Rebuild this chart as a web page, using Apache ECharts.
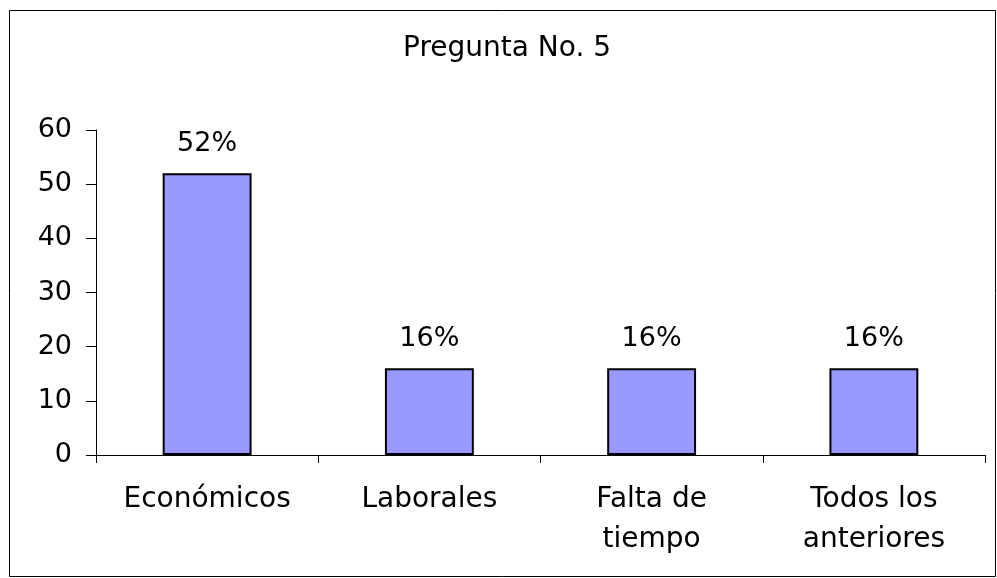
<!DOCTYPE html>
<html>
<head>
<meta charset="utf-8">
<script src="https://cdn.jsdelivr.net/npm/echarts@6/dist/echarts.min.js"></script>
<style>
  html, body { margin: 0; padding: 0; background: #fff; }
  #chart { width: 997px; height: 578px; }
</style>
</head>
<body>
<div id="chart"></div>
<script>
const categories = ['Económicos', 'Laborales', 'Falta de\ntiempo', 'Todos los\nanteriores'];
const values = [52, 16, 16, 16];
const yTicks = { min: 0, max: 60, interval: 10 };
const titleText = 'Pregunta No. 5';

const font = '"DejaVu Sans", Verdana, sans-serif';
const chart = echarts.init(document.getElementById('chart'), null, { renderer: 'canvas' });

chart.setOption({
  backgroundColor: '#fff',
  animation: false,
  graphic: [{
    type: 'rect',
    shape: { x: 9.5, y: 10.5, width: 986, height: 566 },
    style: { fill: 'none', stroke: '#000', lineWidth: 1 },
    silent: true,
  }, {
    type: 'text',
    x: 507,
    y: 49,
    style: {
      text: titleText,
      align: 'center',
      verticalAlign: 'middle',
      font: '28px ' + font,
      fill: '#000',
    },
  }],
  grid: { left: 96, right: 12, top: 130, bottom: 123, containLabel: false },
  xAxis: {
    type: 'category',
    data: categories,
    boundaryGap: true,
    axisLine: { lineStyle: { color: '#000', width: 1 } },
    axisTick: { show: true, length: 8, alignWithLabel: false, lineStyle: { color: '#000' } },
    axisLabel: {
      interval: 0,
      margin: 25,
      fontFamily: font,
      fontSize: 28,
      lineHeight: 40,
      color: '#000',
      verticalAlign: 'top',
    },
    splitLine: { show: false },
  },
  yAxis: {
    type: 'value',
    min: yTicks.min,
    max: yTicks.max,
    interval: yTicks.interval,
    axisLine: { show: true, lineStyle: { color: '#000', width: 1 } },
    axisTick: { show: true, length: 10, lineStyle: { color: '#000' } },
    axisLabel: { margin: 24, fontFamily: font, fontSize: 27, color: '#000' },
    splitLine: { show: false },
  },
  series: [{
    type: 'bar',
    data: values,
    barCategoryGap: '60%',
    itemStyle: { color: '#9999FF', borderColor: '#000', borderWidth: 2 },
    label: {
      show: true,
      position: 'top',
      distance: 16,
      formatter: '{c}%',
      fontFamily: font,
      fontSize: 27,
      color: '#000',
    },
  }],
});
</script>
</body>
</html>
